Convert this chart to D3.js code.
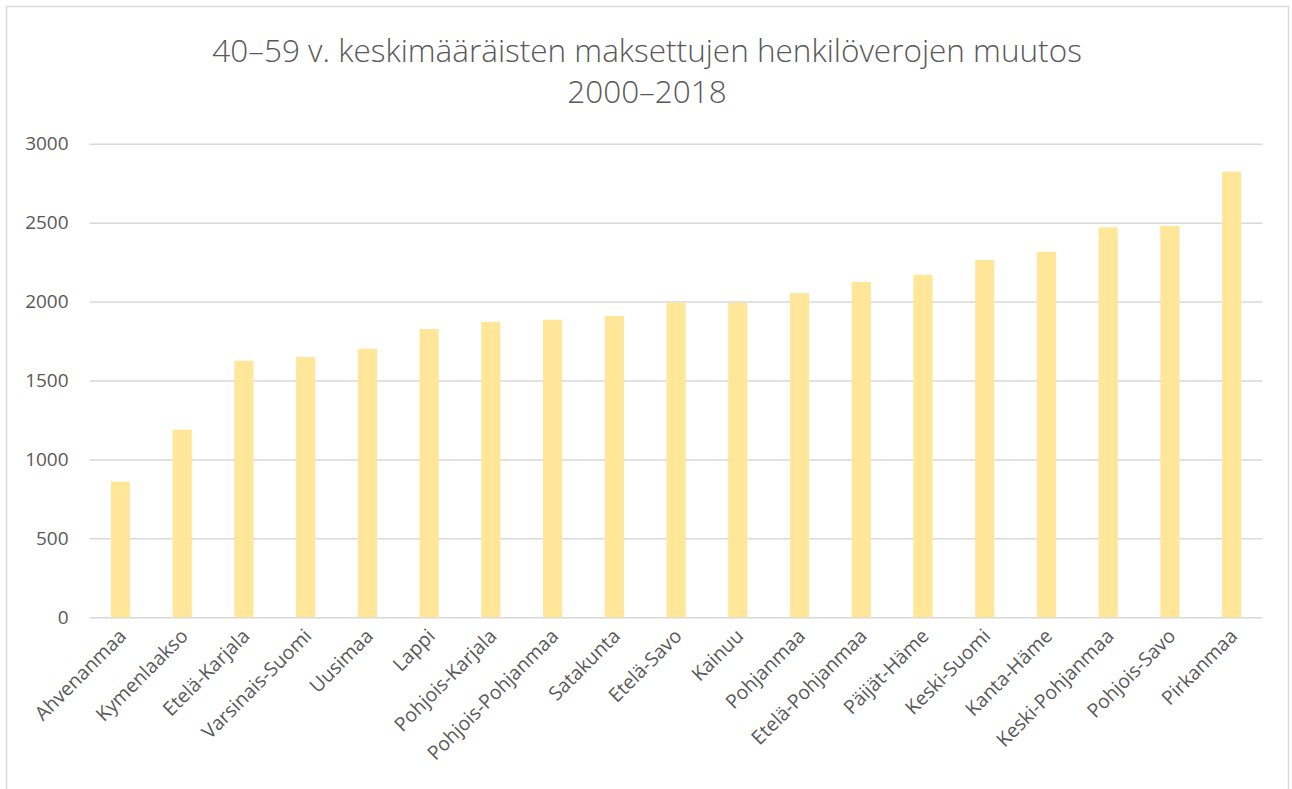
<!DOCTYPE html>
<html>
  <head>
    <meta charset="utf-8">
    <title>Henkiloverojen muutos</title>
    <script src="https://d3js.org/d3.v7.min.js"></script>
    <style>
      body { margin: 0; background: #fff; }
      text { font-family: "Open Sans", "Noto Sans", sans-serif; fill: #595959; }
    </style>
  </head>

  <body>
    <div class="chart"></div>

    <script>
      // regions, sorted by value
      var regions = ["Ahvenanmaa", "Kymenlaakso", "Etelä-Karjala", "Varsinais-Suomi", "Uusimaa",
        "Lappi", "Pohjois-Karjala", "Pohjois-Pohjanmaa", "Satakunta", "Etelä-Savo", "Kainuu",
        "Pohjanmaa", "Etelä-Pohjanmaa", "Päijät-Häme", "Keski-Suomi", "Kanta-Häme",
        "Keski-Pohjanmaa", "Pohjois-Savo", "Pirkanmaa"];
      var muutos = [859, 1188, 1625, 1649, 1701, 1826, 1871, 1885, 1909, 1995, 1993,
        2054, 2124, 2170, 2263, 2316, 2470, 2479, 2823];
      var yTicks = [0, 500, 1000, 1500, 2000, 2500, 3000];
      var titleLines = ["40–59 v. keskimääräisten maksettujen henkilöverojen muutos", "2000–2018"];

      var width = 1292, height = 789;
      var plot = {left: 89.6, right: 1262.5, top: 143.7, bottom: 617.3};

      var svg = d3.select("div.chart").append("svg")
        .attr("width", width)
        .attr("height", height)

      //chart frame
      svg.append("rect")
        .attr("x", 6.5).attr("y", 6.5)
        .attr("width", 1282).attr("height", 800)
        .attr("fill", "none")
        .attr("stroke", "#d9d9d9")
        .attr("stroke-width", 1.5)

      var x = d3.scaleBand()
        .domain(regions)
        .range([plot.left, plot.right])
        .paddingInner(0.69)
        .paddingOuter(0.345)

      var y = d3.scaleLinear()
        .domain([0, 3000])
        .range([plot.bottom, plot.top])

      // gridlines + y labels
      var yAxis = svg.append("g")
        .attr("transform", "translate(" + plot.left + ",0)")
        .call(d3.axisLeft(y).tickValues(yTicks).tickFormat(d3.format("d"))
          .tickSize(-(plot.right - plot.left)).tickPadding(21))
      yAxis.select(".domain").remove()
      yAxis.selectAll("line").attr("stroke", "#d9d9d9").attr("stroke-width", 1.5)
      yAxis.selectAll("text")
        .style("font-size", "19px")
        .attr("fill", "#595959")

      // bars
      svg.append("g").selectAll("rect")
        .data(regions)
        .enter().append("rect")
        .attr("x", function (d) { return x(d); })
        .attr("width", x.bandwidth())
        .attr("y", function (d, i) { return y(muutos[i]); })
        .attr("height", function (d, i) { return y(0) - y(muutos[i]); })
        .attr("fill", "#ffe699")

      // x labels
      var xAxis = svg.append("g")
        .attr("transform", "translate(0," + plot.bottom + ")")
        .call(d3.axisBottom(x).tickSize(0).tickPadding(0))
      xAxis.select(".domain").remove()
      xAxis.selectAll("text")
        .style("font-size", "19.5px")
        .attr("fill", "#595959")
        .attr("text-anchor", "end")
        .attr("dy", 0)
        .attr("transform", "translate(7,20) rotate(-45)")

      // title
      svg.append("g").selectAll("text")
        .data(titleLines)
        .enter().append("text")
        .attr("x", 647)
        .attr("y", function (d, i) { return 62 + i * 41; })
        .attr("text-anchor", "middle")
        .style("font-size", "31.5px")
        .style("font-weight", 300)
        .text(function (d) { return d; })
    </script>

  </body>
</html>
